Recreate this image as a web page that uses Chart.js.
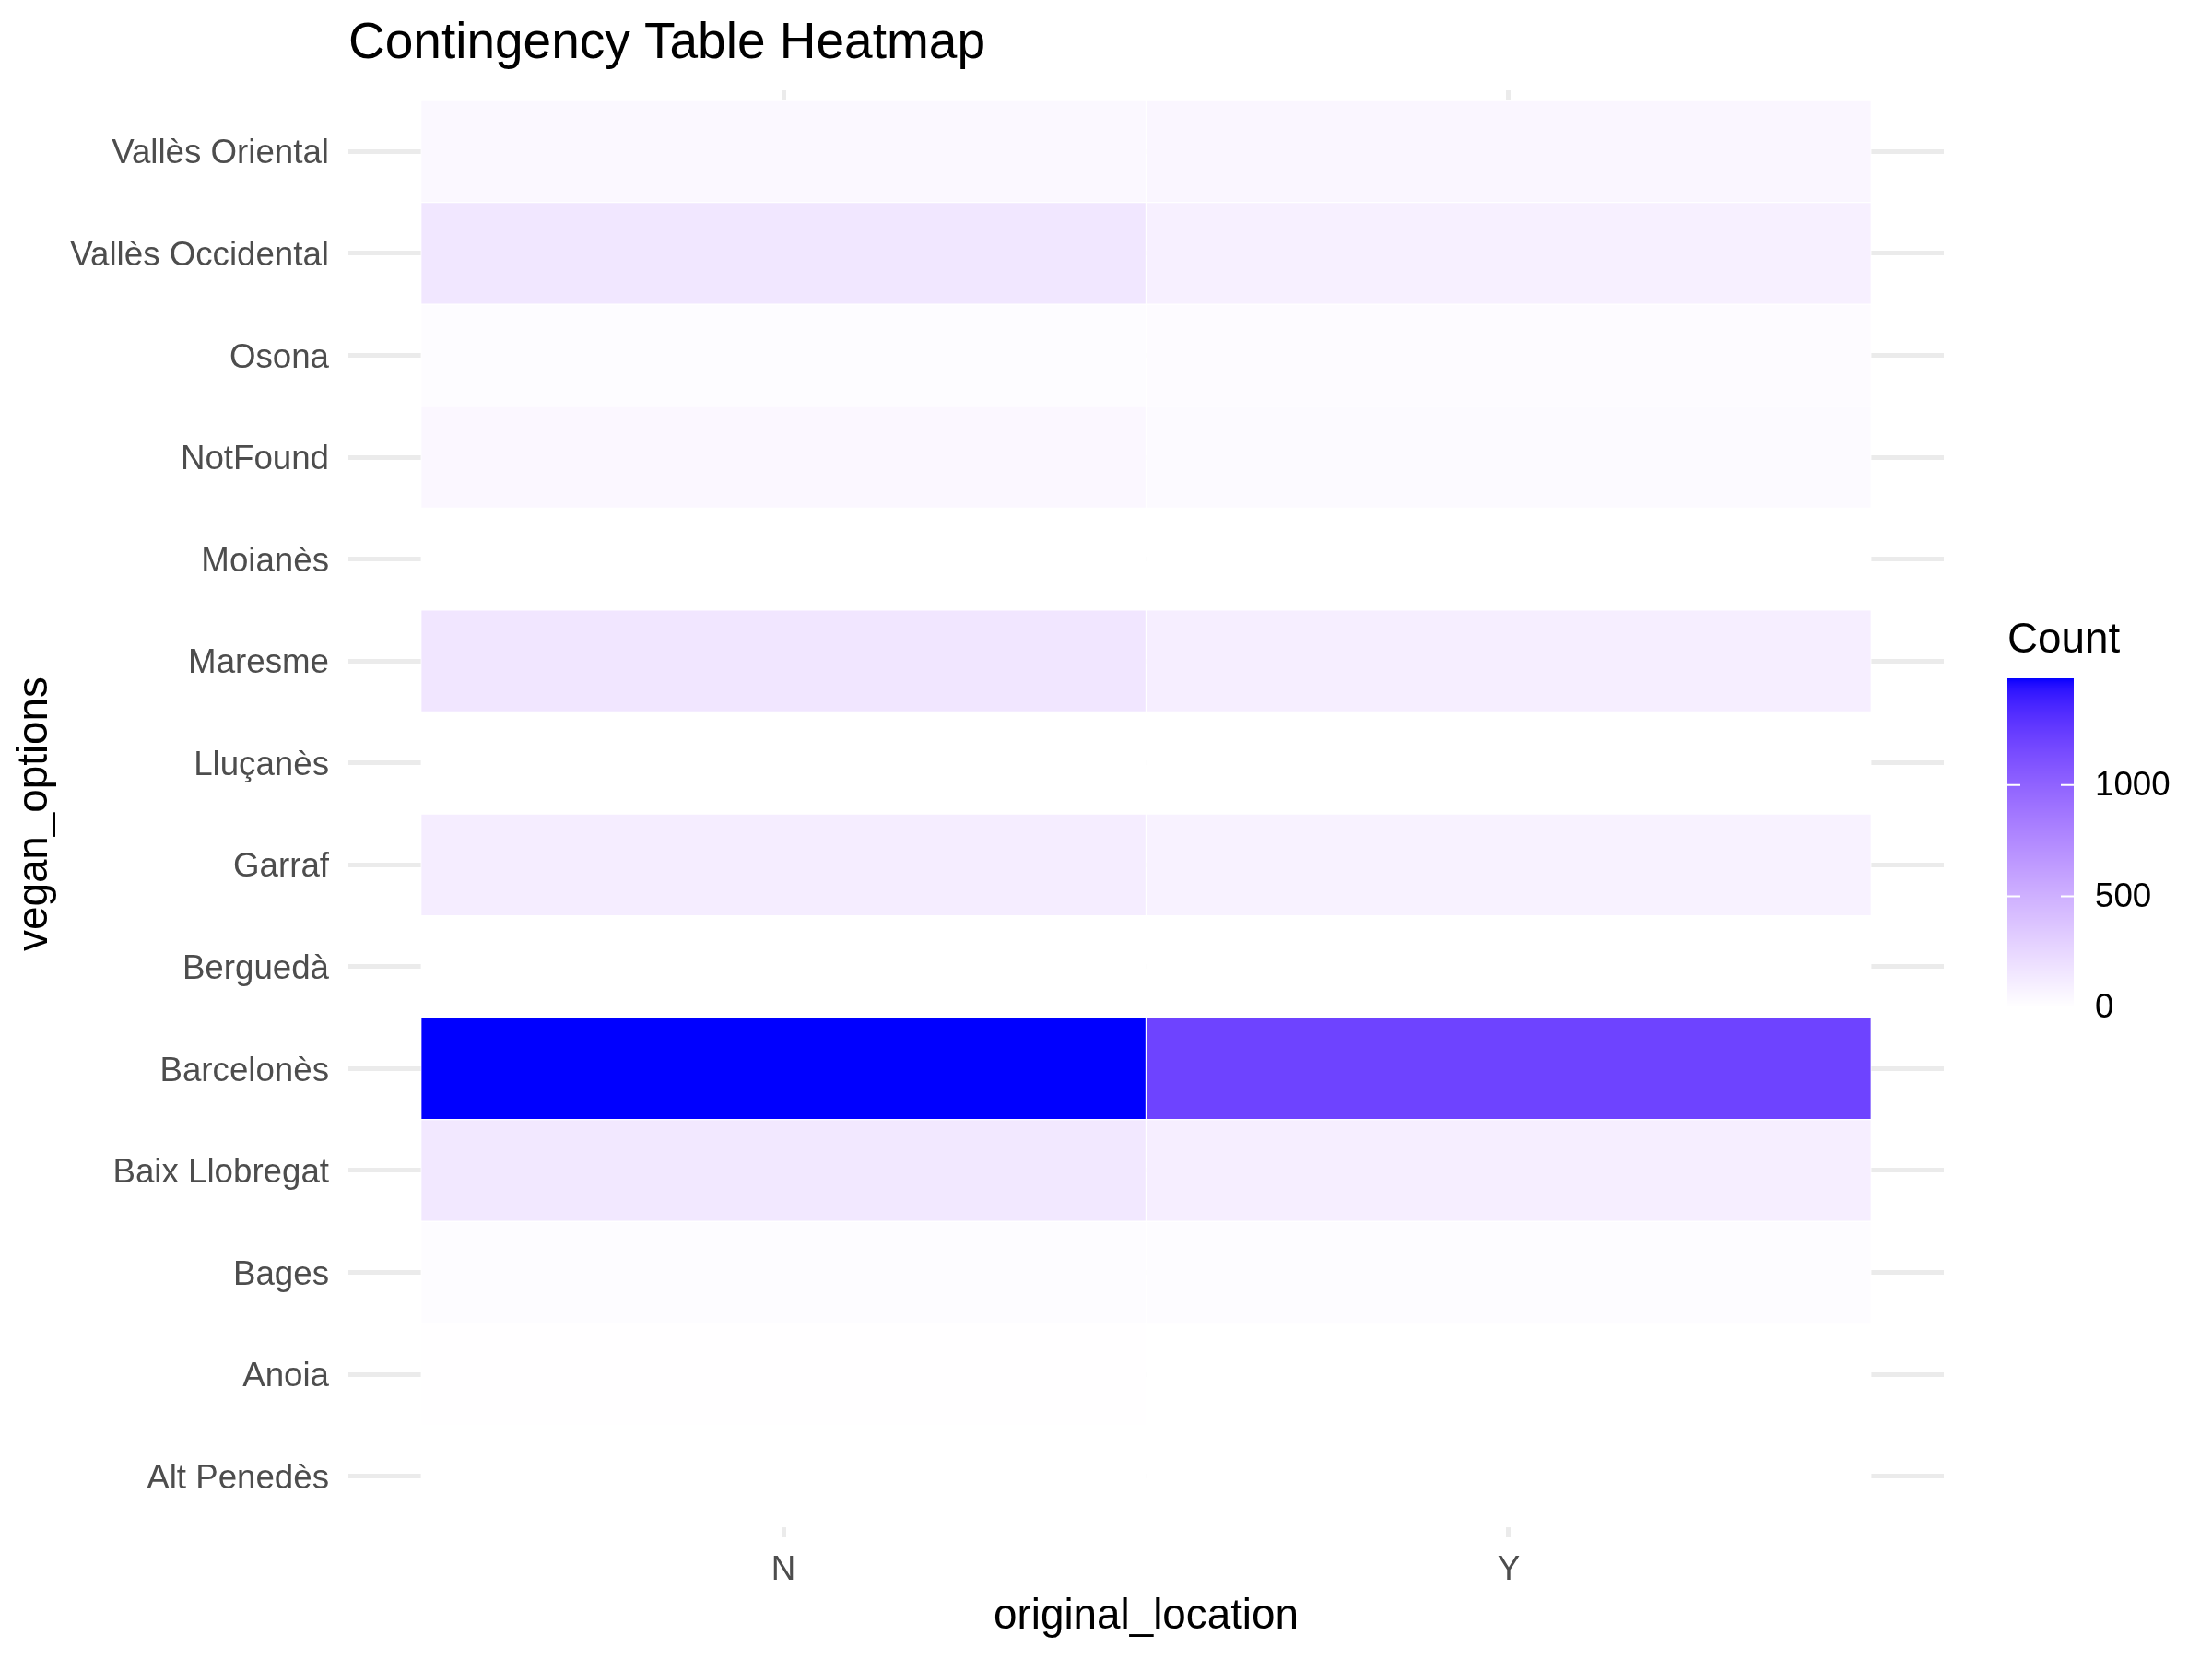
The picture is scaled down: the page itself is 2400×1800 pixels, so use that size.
<!DOCTYPE html>
<html>
<head>
<meta charset="utf-8">
<script src="https://cdn.jsdelivr.net/npm/chart.js@4.4.1/dist/chart.umd.min.js"></script>
<style>
html,body{margin:0;padding:0;background:#fff;}
#c{display:block;}
</style>
</head>
<body>
<canvas id="c" width="2400" height="1800"></canvas>
<script>
// ---- data ----
const rows = ['Alt Penedès','Anoia','Bages','Baix Llobregat','Barcelonès','Berguedà','Garraf','Lluçanès','Maresme','Moianès','NotFound','Osona','Vallès Occidental','Vallès Oriental'];
const cols = ['N','Y'];
const countN = [3, 5, 22, 145, 1480, 3, 115, 1, 160, 2, 50, 18, 150, 45];
const countY = [3, 4, 22, 105, 1200, 2, 80, 1, 105, 2, 35, 25, 95, 60];
const legendTicks = [0, 500, 1000];
const titleText = 'Contingency Table Heatmap';
const xTitle = 'original_location';
const yTitle = 'vegan_options';
const legendTitle = 'Count';

const counts = [countN, countY];
const allVals = countN.concat(countY);
const vmin = Math.min(...allVals), vmax = Math.max(...allVals);

// ---- Lab colour interpolation (white -> blue) ----
function s2l(c){c/=255;return c<=0.04045?c/12.92:Math.pow((c+0.055)/1.055,2.4);}
function l2s(c){c=Math.max(0,Math.min(1,c));return 255*(c<=0.0031308?12.92*c:1.055*Math.pow(c,1/2.4)-0.055);}
const Xn=0.95047,Yn=1,Zn=1.08883;
function f(t){return t>0.008856?Math.cbrt(t):(7.787*t+16/116);}
function fi(t){return t>0.206893?t*t*t:(t-16/116)/7.787;}
function rgb2lab(r,g,b){
  r=s2l(r);g=s2l(g);b=s2l(b);
  const X=0.4124564*r+0.3575761*g+0.1804375*b;
  const Y=0.2126729*r+0.7151522*g+0.0721750*b;
  const Z=0.0193339*r+0.1191920*g+0.9503041*b;
  const fx=f(X/Xn),fy=f(Y/Yn),fz=f(Z/Zn);
  return [116*fy-16,500*(fx-fy),200*(fy-fz)];
}
function lab2rgb(L,a,b){
  const fy=(L+16)/116,fx=fy+a/500,fz=fy-b/200;
  const X=Xn*fi(fx),Y=Yn*fi(fy),Z=Zn*fi(fz);
  const r= 3.2404542*X-1.5371385*Y-0.4985314*Z;
  const g=-0.9692660*X+1.8760108*Y+0.0415560*Z;
  const bb=0.0556434*X-0.2040259*Y+1.0572252*Z;
  return [l2s(r),l2s(g),l2s(bb)].map(v=>Math.round(v));
}
const LOW=rgb2lab(255,255,255), HIGH=rgb2lab(0,0,255);
function colorFor(v){
  const t=(v-vmin)/(vmax-vmin);
  const c=lab2rgb(LOW[0]+(HIGH[0]-LOW[0])*t,LOW[1]+(HIGH[1]-LOW[1])*t,LOW[2]+(HIGH[2]-LOW[2])*t);
  return 'rgb('+c[0]+','+c[1]+','+c[2]+')';
}

const FONT='"Liberation Sans", Arial, Helvetica, sans-serif';

const decor={
  id:'decor',
  afterDraw(chart){
    const ctx=chart.ctx, ca=chart.chartArea;
    ctx.save();
    // title
    ctx.fillStyle='#000';
    ctx.font='55px '+FONT;
    ctx.textAlign='left';ctx.textBaseline='alphabetic';
    ctx.fillText(titleText, ca.left, 63);
    // axis titles
    ctx.font='45.8px '+FONT;
    ctx.textAlign='center';
    ctx.fillText(xTitle,(ca.left+ca.right)/2,1767);
    ctx.save();
    ctx.translate(51,(ca.top+ca.bottom)/2);
    ctx.rotate(-Math.PI/2);
    ctx.fillText(yTitle,0,0);
    ctx.restore();
    // legend
    const lx=2178,lw=72,ltop=736,lbot=1093,lh=lbot-ltop;
    ctx.textAlign='left';
    ctx.fillText(legendTitle,lx,708);
    for(let py=0;py<lh;py++){
      const v=vmax-(py+0.5)/lh*(vmax-vmin);
      ctx.fillStyle=colorFor(v);
      ctx.fillRect(lx,ltop+py,lw,1.2);
    }
    ctx.font='36.7px '+FONT;
    ctx.textBaseline='middle';
    legendTicks.forEach(tv=>{
      const y=ltop+(vmax-tv)/(vmax-vmin)*lh;
      if(tv>=vmin&&tv<=vmax){
        ctx.strokeStyle='#fff';ctx.lineWidth=2;
        ctx.beginPath();
        ctx.moveTo(lx,y);ctx.lineTo(lx+14,y);
        ctx.moveTo(lx+lw-14,y);ctx.lineTo(lx+lw,y);
        ctx.stroke();
      }
      ctx.fillStyle='#000';
      ctx.fillText(String(tv),2273,y+1);
    });
    ctx.restore();
  }
};

new Chart(document.getElementById('c'),{
  type:'bar',
  data:{
    datasets: cols.map((c,ci)=>({
      label:c,
      data: rows.map((r,ri)=>({y:ri+1,x:[ci+0.5,ci+1.5]})),
      backgroundColor: counts[ci].map(colorFor),
      borderColor:'#ffffff',
      borderWidth:1,
      borderSkipped:false,
      grouped:false,
      categoryPercentage:1,
      barPercentage:1
    }))
  },
  options:{
    indexAxis:'y',
    responsive:false,
    animation:false,
    devicePixelRatio:1,
    layout:{padding:{left:0,right:291,top:98,bottom:0}},
    plugins:{legend:{display:false},tooltip:{enabled:false},title:{display:false}},
    scales:{
      x:{
        type:'linear',min:0.4,max:2.6,offset:false,
        grid:{color:'#EBEBEB',lineWidth:5,drawTicks:false,offset:false},
        border:{display:false},
        afterBuildTicks:s=>{s.ticks=cols.map((c,i)=>({value:i+1}));},
        afterFit:s=>{s.height=132;},
        ticks:{font:{family:FONT,size:36.7},color:'#4D4D4D',padding:14,maxRotation:0,autoSkip:false,
          callback:(v)=>cols[Math.round(v)-1]}
      },
      y:{
        type:'linear',min:0.4,max:14.6,offset:false,
        grid:{color:'#EBEBEB',lineWidth:5,drawTicks:false,offset:false},
        border:{display:false},
        afterBuildTicks:s=>{s.ticks=rows.map((r,i)=>({value:i+1}));},
        afterFit:s=>{s.width=378;},
        ticks:{font:{family:FONT,size:36.7},color:'#4D4D4D',padding:21,autoSkip:false,labelOffset:3,
          callback:(v)=>rows[Math.round(v)-1]}
      }
    }
  },
  plugins:[decor]
});
</script>
</body>
</html>
